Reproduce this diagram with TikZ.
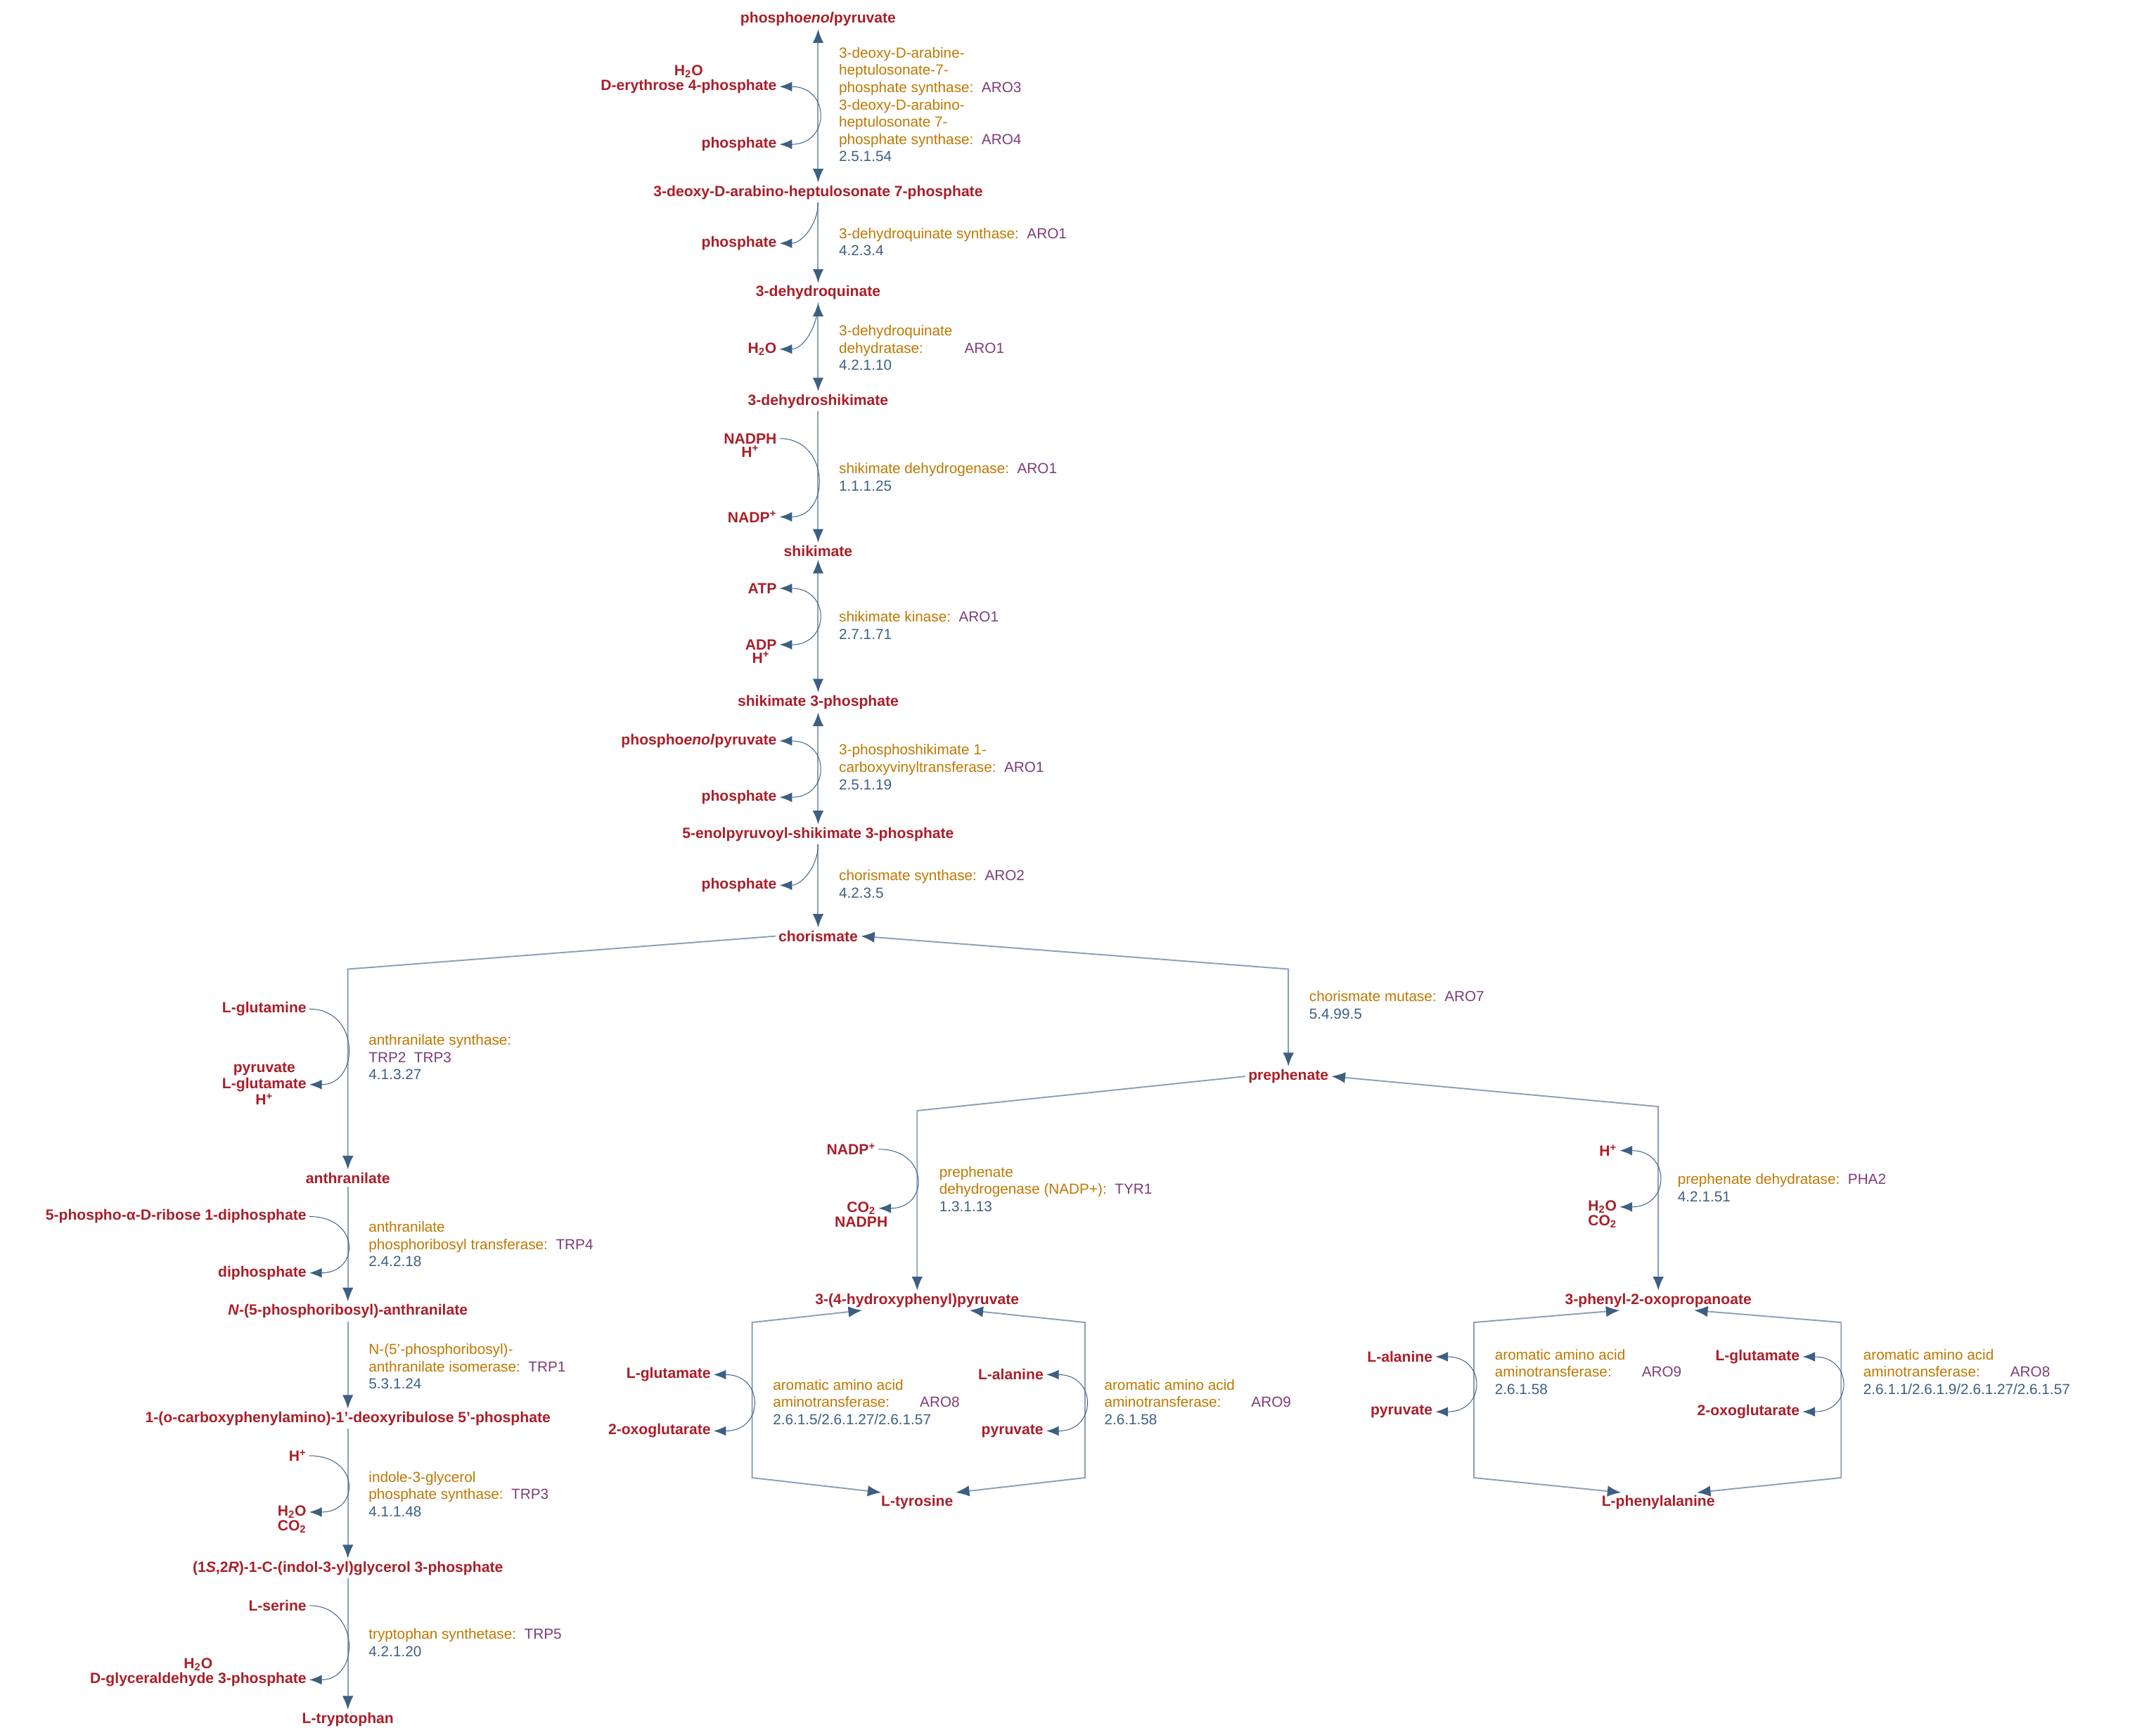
\documentclass[tikz,border=0pt]{standalone}
\usepackage{fontspec}
\setmainfont{Liberation Sans}
\usetikzlibrary{positioning,arrows.meta}
\definecolor{cpdRed}{RGB}{170,30,40}
\definecolor{enzOrange}{RGB}{190,120,0}
\definecolor{genePurple}{RGB}{125,60,120}
\definecolor{ecBlue}{RGB}{60,95,130}
\definecolor{lineBlue}{RGB}{140,160,185}
\newcommand{\gn}[1]{\textcolor{genePurple}{#1}}
\newcommand{\ec}[1]{\textcolor{ecBlue}{#1}}
\begin{document}
\begin{tikzpicture}[x=1pt,y=-1pt,
    cpd/.style={text=cpdRed,font=\fontsize{10.8}{12.5}\selectfont\bfseries,inner sep=2pt},
    side/.style={cpd,anchor=east},
    enz/.style={text=enzOrange,font=\fontsize{10.6}{12.6}\selectfont,align=left,anchor=west,inner sep=0pt},
    main/.style={lineBlue,line width=1pt,arrows={-Latex[length=10pt,width=8pt,color=ecBlue]}},
    both/.style={main,arrows={Latex[length=10pt,width=8pt,color=ecBlue]-Latex[length=10pt,width=8pt,color=ecBlue]}},
    curve/.style={ecBlue,line width=0.5pt,arrows={-Latex[length=9pt,width=7pt]}},
    curve2/.style={curve,arrows={Latex[length=9pt,width=7pt]-Latex[length=9pt,width=7pt]}}]
  \useasboundingbox (0,0) rectangle (1568,1262);

  % Shikimate pathway
  \node[cpd] (pep) at (595,14) {phospho\textit{enol}pyruvate};
  \node[cpd] (dahp) at (595,140) {3-deoxy-D-arabino-heptulosonate 7-phosphate};
  \node[cpd] (dhq) at (595,213) {3-dehydroquinate};
  \node[cpd] (dhs) at (595,292) {3-dehydroshikimate};
  \node[cpd] (shik) at (595,401) {shikimate};
  \node[cpd] (sp) at (595,511) {shikimate 3-phosphate};
  \node[cpd] (epsp) at (595,607) {5-enolpyruvoyl-shikimate 3-phosphate};
  \node[cpd] (chor) at (595,681) {chorismate};

  \draw[both] (pep) -- (dahp);
  \draw[main] (dahp) -- (dhq);
  \draw[both] (dhq) -- (dhs);
  \draw[main] (dhs) -- (shik);
  \draw[both] (shik) -- (sp);
  \draw[both] (sp) -- (epsp);
  \draw[main] (epsp) -- (chor);

  % Side compounds
  \node[side] (e4p) at (567,63) {D-erythrose 4-phosphate};
  \node[cpd,above=-3pt of e4p] (wat1) {H\textsubscript{2}O};
  \node[side] (pi1) at (567,105) {phosphate};
  \node[side] (pi2) at (567,177) {phosphate};
  \node[side] (wat2) at (567,254) {H\textsubscript{2}O};
  \node[side] (nadph) at (567,319) {NADPH};
  \node[cpd,below=-3pt of nadph] (hp1) {H\textsuperscript{+}};
  \node[side] (nadp) at (567,376) {NADP\textsuperscript{+}};
  \node[side] (atp) at (567,428) {ATP};
  \node[side] (adp) at (567,469) {ADP};
  \node[cpd,below=-3pt of adp] (hp2) {H\textsuperscript{+}};
  \node[side] (pep2) at (567,539) {phospho\textit{enol}pyruvate};
  \node[side] (pi3) at (567,580) {phosphate};
  \node[side] (pi4) at (567,644) {phosphate};

  \draw[curve2] (e4p.east) .. controls +(37,0) and +(37,0) .. (pi1.east);
  \draw[curve] (dahp.south) to[out=-90,in=0] (pi2.east);
  \draw[curve] (dhq.south) to[out=-90,in=0] (wat2.east);
  \draw[curve] (nadph.east) .. controls +(37,0) and +(37,0) .. (nadp.east);
  \draw[curve2] (atp.east) .. controls +(37,0) and +(37,0) .. (adp.east);
  \draw[curve2] (pep2.east) .. controls +(37,0) and +(37,0) .. (pi3.east);
  \draw[curve] (epsp.south) to[out=-90,in=0] (pi4.east);

  % Enzymes
  \node[enz] (enz1) at (610,76) {3-deoxy-D-arabine-\\heptulosonate-7-\\phosphate synthase:~~\gn{ARO3}\\3-deoxy-D-arabino-\\heptulosonate 7-\\phosphate synthase:~~\gn{ARO4}\\\ec{2.5.1.54}};
  \node[enz] (enz2) at (610,176) {3-dehydroquinate synthase:~~\gn{ARO1}\\\ec{4.2.3.4}};
  \node[enz] (enz3) at (610,253) {3-dehydroquinate\\dehydratase:\hspace{30pt}\gn{ARO1}\\\ec{4.2.1.10}};
  \node[enz] (enz4) at (610,347) {shikimate dehydrogenase:~~\gn{ARO1}\\\ec{1.1.1.25}};
  \node[enz] (enz5) at (610,455) {shikimate kinase:~~\gn{ARO1}\\\ec{2.7.1.71}};
  \node[enz] (enz6) at (610,558) {3-phosphoshikimate 1-\\carboxyvinyltransferase:~~\gn{ARO1}\\\ec{2.5.1.19}};
  \node[enz] (enz7) at (610,643) {chorismate synthase:~~\gn{ARO2}\\\ec{4.2.3.5}};

  % Tryptophan branch
  \node[cpd] (anth) at (253,857) {anthranilate};
  \node[cpd] (pra) at (253,954) {\textit{N}-(5-phosphoribosyl)-anthranilate};
  \node[cpd] (cdrp) at (253,1032) {1-(o-carboxyphenylamino)-1'-deoxyribulose 5'-phosphate};
  \node[cpd] (igp) at (253,1141) {(1\textit{S},2\textit{R})-1-C-(indol-3-yl)glycerol 3-phosphate};
  \node[cpd] (trp) at (253,1251) {L-tryptophan};

  \draw[main] (chor.west) -- (anth |- 0,705) -- (anth);
  \draw[main] (anth) -- (pra);
  \draw[main] (pra) -- (cdrp);
  \draw[main] (cdrp) -- (igp);
  \draw[main] (igp) -- (trp);

  \node[side] (gln) at (225,734) {L-glutamine};
  \node[side] (glu1) at (225,789) {L-glutamate};
  \node[cpd,above=-3pt of glu1] (pyr1) {pyruvate};
  \node[cpd,below=-3pt of glu1] (hp3) {H\textsuperscript{+}};
  \node[side] (prpp) at (225,885) {5-phospho-α-D-ribose 1-diphosphate};
  \node[side] (ppi) at (225,926) {diphosphate};
  \node[side] (hp4) at (225,1059) {H\textsuperscript{+}};
  \node[side] (wat3) at (225,1100) {H\textsubscript{2}O};
  \node[cpd,below=-3pt of wat3] (co2a) {CO\textsubscript{2}};
  \node[side] (ser) at (225,1168) {L-serine};
  \node[side] (gap) at (225,1222) {D-glyceraldehyde 3-phosphate};
  \node[cpd,above=-3pt of gap] (wat4) {H\textsubscript{2}O};

  \draw[curve] (gln.east) .. controls +(37,0) and +(37,0) .. (glu1.east);
  \draw[curve] (prpp.east) .. controls +(37,0) and +(37,0) .. (ppi.east);
  \draw[curve] (hp4.east) .. controls +(37,0) and +(37,0) .. (wat3.east);
  \draw[curve] (ser.east) .. controls +(37,0) and +(37,0) .. (gap.east);

  \node[enz] (enz8) at (268,769) {anthranilate synthase:\\\gn{TRP2~~TRP3}\\\ec{4.1.3.27}};
  \node[enz] (enz9) at (268,905) {anthranilate\\phosphoribosyl transferase:~~\gn{TRP4}\\\ec{2.4.2.18}};
  \node[enz] (enz10) at (268,994) {N-(5'-phosphoribosyl)-\\anthranilate isomerase:~~\gn{TRP1}\\\ec{5.3.1.24}};
  \node[enz] (enz11) at (268,1087) {indole-3-glycerol\\phosphate synthase:~~\gn{TRP3}\\\ec{4.1.1.48}};
  \node[enz] (enz12) at (268,1195) {tryptophan synthetase:~~\gn{TRP5}\\\ec{4.2.1.20}};

  % Tyrosine and phenylalanine branches
  \node[cpd] (preph) at (937,783) {prephenate};
  \node[cpd] (hpp) at (667,946) {3-(4-hydroxyphenyl)pyruvate};
  \node[cpd] (tyr) at (667,1093) {L-tyrosine};
  \node[cpd] (ppy) at (1206,946) {3-phenyl-2-oxopropanoate};
  \node[cpd] (phe) at (1206,1093) {L-phenylalanine};

  \draw[both] (chor.east) -- (preph |- 0,705) -- (preph);
  \draw[main] (preph.west) -- (hpp |- 0,808) -- (hpp);
  \draw[both] (preph.east) -- (ppy |- 0,805) -- (ppy);

  \draw[both] ([xshift=-40pt]hpp.south) -- (547,962) -- (547,1075) -- ([xshift=-26pt]tyr.north);
  \draw[both] ([xshift=38pt]hpp.south) -- (789,962) -- (789,1075) -- ([xshift=28pt]tyr.north);
  \draw[both] ([xshift=-28pt]ppy.south) -- (1072,962) -- (1072,1075) -- ([xshift=-27pt]phe.north);
  \draw[both] ([xshift=26pt]ppy.south) -- (1339,962) -- (1339,1075) -- ([xshift=28pt]phe.north);

  \node[side] (nadp2) at (639,836) {NADP\textsuperscript{+}};
  \node[side] (co2b) at (639,879) {CO\textsubscript{2}};
  \node[cpd,below=-3pt of co2b] (nadph2) {NADPH};
  \node[side] (hp5) at (1178,837) {H\textsuperscript{+}};
  \node[side] (wat5) at (1178,878) {H\textsubscript{2}O};
  \node[cpd,below=-3pt of wat5] (co2c) {CO\textsubscript{2}};
  \node[side] (glu2) at (519,1000) {L-glutamate};
  \node[side] (akg1) at (519,1041) {2-oxoglutarate};
  \node[side] (ala1) at (761,1000) {L-alanine};
  \node[side] (pyr2) at (761,1041) {pyruvate};
  \node[side] (ala2) at (1044,987) {L-alanine};
  \node[side] (pyr3) at (1044,1027) {pyruvate};
  \node[side] (glu3) at (1311,987) {L-glutamate};
  \node[side] (akg2) at (1311,1027) {2-oxoglutarate};

  \draw[curve] (nadp2.east) .. controls +(37,0) and +(37,0) .. (co2b.east);
  \draw[curve2] (hp5.east) .. controls +(37,0) and +(37,0) .. (wat5.east);
  \draw[curve2] (glu2.east) .. controls +(37,0) and +(37,0) .. (akg1.east);
  \draw[curve2] (ala1.east) .. controls +(37,0) and +(37,0) .. (pyr2.east);
  \draw[curve2] (ala2.east) .. controls +(37,0) and +(37,0) .. (pyr3.east);
  \draw[curve2] (glu3.east) .. controls +(37,0) and +(37,0) .. (akg2.east);

  \node[enz] (enz13) at (952,731) {chorismate mutase:~~\gn{ARO7}\\\ec{5.4.99.5}};
  \node[enz] (enz14) at (683,865) {prephenate\\dehydrogenase (NADP+):~~\gn{TYR1}\\\ec{1.3.1.13}};
  \node[enz] (enz15) at (1220,864) {prephenate dehydratase:~~\gn{PHA2}\\\ec{4.2.1.51}};
  \node[enz] (enz16) at (562,1020) {aromatic amino acid\\aminotransferase:\hspace{22pt}\gn{ARO8}\\\ec{2.6.1.5/2.6.1.27/2.6.1.57}};
  \node[enz] (enz17) at (803,1020) {aromatic amino acid\\aminotransferase:\hspace{22pt}\gn{ARO9}\\\ec{2.6.1.58}};
  \node[enz] (enz18) at (1087,998) {aromatic amino acid\\aminotransferase:\hspace{22pt}\gn{ARO9}\\\ec{2.6.1.58}};
  \node[enz] (enz19) at (1355,998) {aromatic amino acid\\aminotransferase:\hspace{22pt}\gn{ARO8}\\\ec{2.6.1.1/2.6.1.9/2.6.1.27/2.6.1.57}};
\end{tikzpicture}
\end{document}
